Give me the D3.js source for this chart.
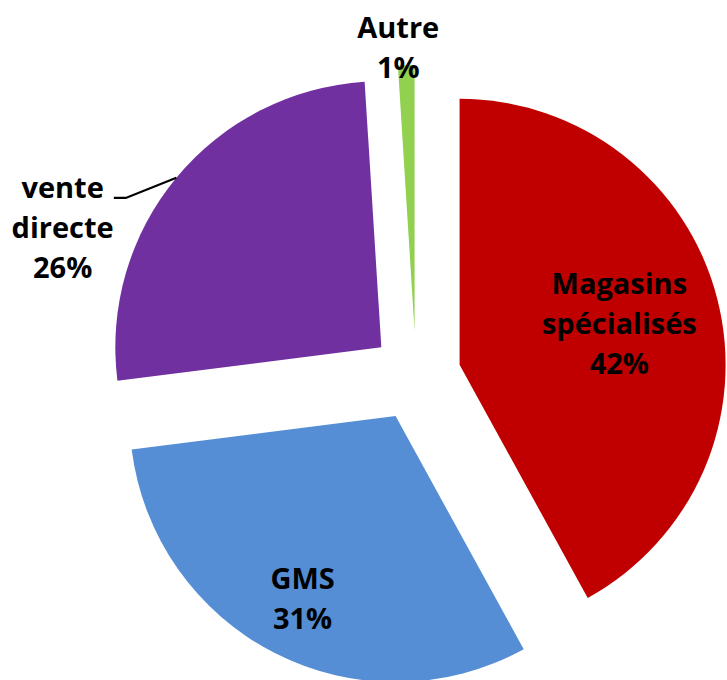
<!DOCTYPE html>
<html>
<head>
<meta charset="utf-8">
<script src="https://cdn.jsdelivr.net/npm/d3@7"></script>
<style>
  body { margin: 0; background: #fff; }
  text { font-family: "Open Sans", sans-serif; font-weight: 700; fill: #000; }
</style>
</head>
<body>
<svg id="chart" width="727" height="680"></svg>
<script>
// data
const categories = ['Magasins spécialisés', 'GMS', 'vente directe', 'Autre'];
const values = [42, 31, 26, 1];
const colors = ['#C00000', '#558ED5', '#7030A0', '#92D050'];

const width = 727;
const height = 680;
const cx = 416, cy = 376;
const radius = 266;
const explode = 45;
const fontSize = 29;
const lineHeight = 40;

// where each label sits: radial factor and angle shift (degrees) from slice middle
const labelPlacement = [
  { k: 0.62, da: 0 },
  { k: 0.77, da: 0 },
  { k: 1.28, da: -19, leader: true },
  { k: 1.067, da: -1.5 }
];

const svg = d3.select('#chart');
const g = svg.append('g').attr('transform', `translate(${cx},${cy})`);

const pie = d3.pie().sort(null).value(d => d);
const arcs = pie(values);
const arc = d3.arc().innerRadius(0).outerRadius(radius);

const polar = (a, r) => [Math.sin(a) * r, -Math.cos(a) * r];

const slices = g.selectAll('g.slice')
  .data(arcs)
  .join('g')
  .attr('class', 'slice')
  .attr('transform', d => {
    const mid = (d.startAngle + d.endAngle) / 2;
    const [x, y] = polar(mid, explode);
    return `translate(${x},${y})`;
  });

slices.append('path')
  .attr('d', arc)
  .attr('fill', (d, i) => colors[i]);

slices.each(function(d, i) {
  const sel = d3.select(this);
  const p = labelPlacement[i];
  const mid = (d.startAngle + d.endAngle) / 2;
  const [lx, ly] = polar(mid + p.da * Math.PI / 180, radius * p.k);
  const lines = categories[i].split(' ').concat([values[i] + '%']);
  const capH = fontSize * 0.72;
  const text = sel.append('text')
    .attr('text-anchor', 'middle')
    .style('font-size', fontSize + 'px');
  lines.forEach((line, j) => {
    text.append('tspan')
      .attr('x', lx)
      .attr('y', ly + (j - (lines.length - 1) / 2) * lineHeight + capH / 2)
      .text(line);
  });
  if (p.leader) {
    const firstW = text.select('tspan').node().getComputedTextLength();
    const baseY = ly - (lines.length - 1) / 2 * lineHeight + capH / 2;
    const endX = lx + firstW / 2 + 10;
    const [ax, ay] = polar(mid, radius);
    sel.append('path')
      .attr('d', d3.line()([[ax, ay], [endX + 12, baseY], [endX, baseY]]))
      .attr('fill', 'none')
      .attr('stroke', '#000')
      .attr('stroke-width', 2.2);
  }
});
</script>
</body>
</html>
